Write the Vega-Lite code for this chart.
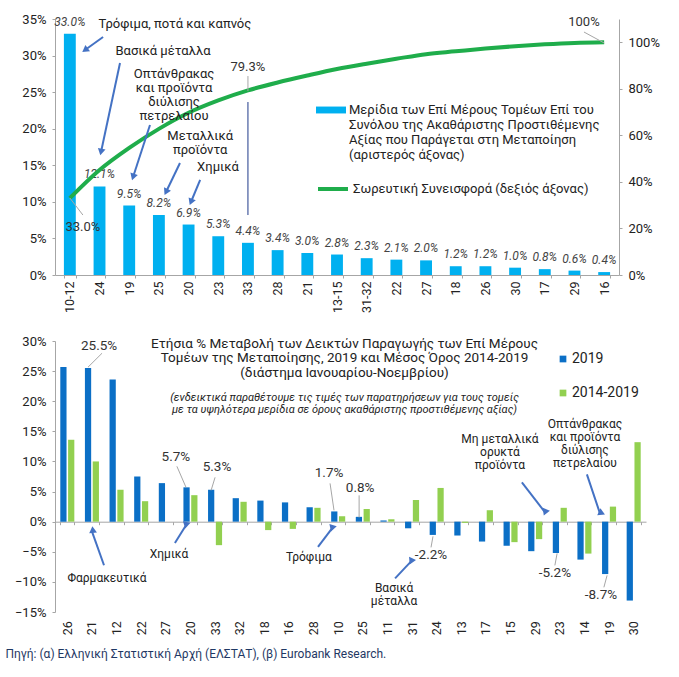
{
  "$schema": "https://vega.github.io/schema/vega-lite/v6.json",
  "background": "white",
  "padding": {"left": 5, "top": 13, "right": 5, "bottom": 5},
  "bounds": "flush",
  "spacing": 66,
  "config": {
    "font": "Roboto",
    "view": {"stroke": null},
    "axis": {"grid": false, "domainColor": "#a6a6a6", "tickColor": "#a6a6a6", "labelColor": "#222222", "labelFontSize": 12.5, "tickSize": 3, "labelPadding": 3, "title": null},
    "axisY": {"labelFontSize": 13, "labelPadding": 6}
  },
  "title": {"text": "Πηγή: (α) Ελληνική Στατιστική Αρχή (ΕΛΣΤΑΤ), (β) Eurobank Research.", "orient": "bottom", "anchor": "start", "fontSize": 12, "fontWeight": "normal", "color": "#1f3864", "offset": 14, "dx": -9},
  "datasets": {
    "top": [
      {"sector": "10-12", "share": 0.330, "cum": 0.330},
      {"sector": "24", "share": 0.121, "cum": 0.451},
      {"sector": "19", "share": 0.095, "cum": 0.546},
      {"sector": "25", "share": 0.082, "cum": 0.628},
      {"sector": "20", "share": 0.069, "cum": 0.697},
      {"sector": "23", "share": 0.053, "cum": 0.750},
      {"sector": "33", "share": 0.044, "cum": 0.793},
      {"sector": "28", "share": 0.034, "cum": 0.827},
      {"sector": "21", "share": 0.030, "cum": 0.857},
      {"sector": "13-15", "share": 0.028, "cum": 0.885},
      {"sector": "31-32", "share": 0.023, "cum": 0.908},
      {"sector": "22", "share": 0.021, "cum": 0.929},
      {"sector": "27", "share": 0.020, "cum": 0.949},
      {"sector": "18", "share": 0.012, "cum": 0.961},
      {"sector": "26", "share": 0.012, "cum": 0.973},
      {"sector": "30", "share": 0.010, "cum": 0.983},
      {"sector": "17", "share": 0.008, "cum": 0.991},
      {"sector": "29", "share": 0.006, "cum": 0.997},
      {"sector": "16", "share": 0.004, "cum": 1.000}
    ],
    "topNotes": [
      {"x": 4.04, "y": 35.14, "text": "Τρόφιμα, ποτά και καπνός"},
      {"x": 3.64, "y": 31.45, "text": "Βασικά μέταλλα"},
      {"x": 4.01, "y": 28.30, "text": "Οπτάνθρακας\nκαι προϊόντα\nδιύλισης\nπετρελαίου"},
      {"x": 4.89, "y": 19.82, "text": "Μεταλλικά\nπροϊόντα"},
      {"x": 5.49, "y": 15.59, "text": "Χημικά"}
    ],
    "topLabels": [
      {"x": 0.94, "y": 6.56, "text": "33.0%"},
      {"x": 6.5, "y": 28.44, "text": "79.3%"},
      {"x": 17.82, "y": 34.59, "text": "100%"}
    ],
    "topLeaders": [
      {"x": 0.50, "y": 10.53, "x2": 0.94, "y2": 8.2},
      {"x": 6.5, "y": 27.2, "x2": 6.5, "y2": 25.16},
      {"x": 17.82, "y": 33.22, "x2": 18.5, "y2": 31.72}
    ],
    "topMarker": [
      {"x": 6.5, "y": 23.65, "y2": 8.2}
    ],
    "topArrows": [
      {"id": "a1", "x": 1.62, "y": 32.54, "x2": 1.01, "y2": 30.76},
      {"id": "a2", "x": 2.19, "y": 28.99, "x2": 1.55, "y2": 16.82},
      {"id": "a3", "x": 3.20, "y": 20.51, "x2": 2.63, "y2": 13.40},
      {"id": "a4", "x": 4.21, "y": 15.31, "x2": 3.74, "y2": 11.35},
      {"id": "a5", "x": 4.89, "y": 12.99, "x2": 4.58, "y2": 9.98}
    ],
    "bottom": [
      {"sector": "26", "series": "2019", "value": 0.257}, {"sector": "26", "series": "2014-2019", "value": 0.136},
      {"sector": "21", "series": "2019", "value": 0.255}, {"sector": "21", "series": "2014-2019", "value": 0.100},
      {"sector": "12", "series": "2019", "value": 0.236}, {"sector": "12", "series": "2014-2019", "value": 0.053},
      {"sector": "22", "series": "2019", "value": 0.075}, {"sector": "22", "series": "2014-2019", "value": 0.034},
      {"sector": "27", "series": "2019", "value": 0.064}, {"sector": "27", "series": "2014-2019", "value": 0.0},
      {"sector": "20", "series": "2019", "value": 0.057}, {"sector": "20", "series": "2014-2019", "value": 0.044},
      {"sector": "33", "series": "2019", "value": 0.053}, {"sector": "33", "series": "2014-2019", "value": -0.039},
      {"sector": "32", "series": "2019", "value": 0.039}, {"sector": "32", "series": "2014-2019", "value": 0.033},
      {"sector": "18", "series": "2019", "value": 0.035}, {"sector": "18", "series": "2014-2019", "value": -0.014},
      {"sector": "16", "series": "2019", "value": 0.032}, {"sector": "16", "series": "2014-2019", "value": -0.012},
      {"sector": "28", "series": "2019", "value": 0.024}, {"sector": "28", "series": "2014-2019", "value": 0.023},
      {"sector": "10", "series": "2019", "value": 0.017}, {"sector": "10", "series": "2014-2019", "value": 0.009},
      {"sector": "25", "series": "2019", "value": 0.008}, {"sector": "25", "series": "2014-2019", "value": 0.021},
      {"sector": "11", "series": "2019", "value": 0.002}, {"sector": "11", "series": "2014-2019", "value": 0.004},
      {"sector": "31", "series": "2019", "value": -0.011}, {"sector": "31", "series": "2014-2019", "value": 0.036},
      {"sector": "24", "series": "2019", "value": -0.022}, {"sector": "24", "series": "2014-2019", "value": 0.056},
      {"sector": "13", "series": "2019", "value": -0.023}, {"sector": "13", "series": "2014-2019", "value": -0.002},
      {"sector": "17", "series": "2019", "value": -0.033}, {"sector": "17", "series": "2014-2019", "value": 0.019},
      {"sector": "15", "series": "2019", "value": -0.040}, {"sector": "15", "series": "2014-2019", "value": -0.034},
      {"sector": "29", "series": "2019", "value": -0.049}, {"sector": "29", "series": "2014-2019", "value": -0.029},
      {"sector": "23", "series": "2019", "value": -0.052}, {"sector": "23", "series": "2014-2019", "value": 0.023},
      {"sector": "14", "series": "2019", "value": -0.063}, {"sector": "14", "series": "2014-2019", "value": -0.053},
      {"sector": "19", "series": "2019", "value": -0.087}, {"sector": "19", "series": "2014-2019", "value": 0.025},
      {"sector": "30", "series": "2019", "value": -0.131}, {"sector": "30", "series": "2014-2019", "value": 0.132}
    ],
    "bottomNotes": [
      {"x": 2.11, "y": -8.59, "text": "Φαρμακευτικά"},
      {"x": 4.63, "y": -4.6, "text": "Χημικά"},
      {"x": 10.31, "y": -5.1, "text": "Τρόφιμα"},
      {"x": 13.77, "y": -10.25, "text": "Βασικά\nμέταλλα"},
      {"x": 18.07, "y": 14.5, "text": "Μη μεταλλικά\nορυκτά\nπροϊόντα"},
      {"x": 21.52, "y": 17.0, "text": "Οπτάνθρακας\nκαι προϊόντα\nδιύλισης\nπετρελαίου"}
    ],
    "bottomLabels": [
      {"x": 1.79, "y": 29.15, "text": "25.5%"},
      {"x": 4.91, "y": 10.66, "text": "5.7%"},
      {"x": 6.58, "y": 9.0, "text": "5.3%"},
      {"x": 11.13, "y": 8.0, "text": "1.7%"},
      {"x": 12.39, "y": 5.53, "text": "0.8%"},
      {"x": 15.27, "y": -5.6, "text": "-2.2%"},
      {"x": 20.30, "y": -8.6, "text": "-5.2%"},
      {"x": 22.17, "y": -12.2, "text": "-8.7%"}
    ],
    "bottomLeaders": [
      {"x": 1.91, "y": 27.97, "x2": 1.34, "y2": 25.65},
      {"x": 4.95, "y": 9.19, "x2": 5.32, "y2": 5.70},
      {"x": 6.50, "y": 7.36, "x2": 6.34, "y2": 5.2},
      {"x": 11.17, "y": 6.36, "x2": 11.33, "y2": 1.88},
      {"x": 12.35, "y": 4.37, "x2": 12.35, "y2": 0.7},
      {"x": 15.35, "y": -2.44, "x2": 15.27, "y2": -4.27},
      {"x": 20.39, "y": -5.27, "x2": 20.30, "y2": -7.26},
      {"x": 22.42, "y": -8.92, "x2": 22.29, "y2": -10.9}
    ],
    "bottomArrows": [
      {"id": "b1", "x": 1.99, "y": -7.24, "x2": 1.50, "y2": -1.61},
      {"id": "b2", "x": 4.87, "y": -3.54, "x2": 5.32, "y2": -0.61},
      {"id": "b3", "x": 10.68, "y": -4.2, "x2": 11.25, "y2": -1.11},
      {"id": "b4", "x": 13.81, "y": -9.42, "x2": 14.46, "y2": -6.6},
      {"id": "b5", "x": 18.96, "y": 6.53, "x2": 19.90, "y2": 1.55},
      {"id": "b6", "x": 21.60, "y": 7.86, "x2": 22.13, "y2": 1.38}
    ]
  },
  "vconcat": [
    {
      "width": 564,
      "height": 256,
      "layer": [
        {
          "data": {"name": "top"},
          "encoding": {
            "x": {"field": "sector", "type": "nominal", "sort": null, "scale": {"paddingInner": 0.6, "paddingOuter": 0.3}, "axis": {"labelAngle": -90, "tickBand": "extent", "title": null}},
            "y": {"field": "share", "type": "quantitative", "scale": {"domain": [0, 0.35], "nice": false}, "axis": {"format": ".0%", "values": [0, 0.05, 0.1, 0.15, 0.2, 0.25, 0.3, 0.35], "title": null}}
          },
          "layer": [
            {
              "mark": {"type": "bar"},
              "encoding": {
                "fill": {"datum": "Μερίδια των Επί Μέρους Τομέων Επί του|Συνόλου της Ακαθάριστης Προστιθέμενης|Αξίας που Παράγεται στη Μεταποίηση|(αριστερός άξονας)", "scale": {"range": ["#00b0f0"]},
                  "legend": {"orient": "none", "legendX": 261, "legendY": 76, "title": null, "padding": 0, "symbolType": "M-1,-0.23H1V0.23H-1Z", "symbolSize": 900, "symbolStrokeWidth": 0, "labelExpr": "split(datum.label, '|')", "labelFontSize": 13, "labelColor": "#222222", "labelLimit": 400, "labelOffset": 3}}
              }
            },
            {
              "mark": {"type": "text", "fontStyle": "italic", "fontSize": 12, "color": "#444444", "baseline": "bottom", "dy": -5},
              "encoding": {"text": {"field": "share", "type": "quantitative", "format": ".1%"}}
            }
          ]
        },
        {
          "data": {"name": "top"},
          "mark": {"type": "line", "interpolate": "monotone", "strokeWidth": 4},
          "encoding": {
            "x": {"field": "sector", "type": "nominal", "sort": null, "scale": {"type": "point", "padding": 0.5}, "axis": null},
            "y": {"field": "cum", "type": "quantitative", "scale": {"domain": [0, 1.1], "nice": false}, "axis": {"orient": "right", "format": ".0%", "values": [0, 0.2, 0.4, 0.6, 0.8, 1], "labelPadding": 6, "title": null}},
            "order": {"field": "cum", "type": "quantitative"},
            "stroke": {"datum": "Σωρευτική Συνεισφορά (δεξιός άξονας)", "scale": {"range": ["#1fad4b"]},
              "legend": {"orient": "none", "legendX": 261, "legendY": 153, "title": null, "padding": 0, "symbolType": "stroke", "symbolSize": 900, "symbolStrokeWidth": 4, "labelFontSize": 13, "labelColor": "#222222", "labelLimit": 400, "labelOffset": 3}}
          }
        },
        {
          "encoding": {
            "x": {"field": "x", "type": "quantitative", "scale": {"domain": [0, 19], "nice": false, "zero": false}, "axis": null},
            "y": {"field": "y", "type": "quantitative", "scale": {"domain": [0, 35], "nice": false, "zero": false}, "axis": null}
          },
          "layer": [
            {"data": {"name": "topLeaders"}, "mark": {"type": "rule", "color": "#a6a6a6", "strokeWidth": 1}, "encoding": {"x2": {"field": "x2"}, "y2": {"field": "y2"}}},
            {"data": {"name": "topMarker"}, "mark": {"type": "rule", "color": "#1f3a8a", "strokeWidth": 1}, "encoding": {"y2": {"field": "y2"}}},
            {"data": {"name": "topArrows"}, "mark": {"type": "rule", "color": "#4472c4", "strokeWidth": 2}, "encoding": {"x2": {"field": "x2"}, "y2": {"field": "y2"}}},
            {"data": {"name": "topArrows"}, "mark": {"type": "point", "shape": "triangle-up", "filled": true, "color": "#4472c4", "size": 60, "opacity": 1},
              "encoding": {"x": {"field": "x2", "type": "quantitative"}, "y": {"field": "y2", "type": "quantitative"},
                "angle": {"field": "id", "type": "nominal", "scale": {"type": "ordinal", "domain": ["a1", "a2", "a3", "a4", "a5"], "range": [234, 192, 198, 206, 202]}, "legend": null}}},
            {"data": {"name": "topLabels"}, "mark": {"type": "text", "fontSize": 13, "color": "#333333", "baseline": "middle", "align": "center"}, "encoding": {"text": {"field": "text"}}},
            {"data": {"name": "topNotes"}, "mark": {"type": "text", "fontSize": 13, "color": "#222222", "baseline": "top", "align": "center", "lineBreak": "\n", "lineHeight": 14}, "encoding": {"text": {"field": "text"}}}
          ]
        }
      ],
      "resolve": {"scale": {"x": "independent", "y": "independent"}}
    },
    {
      "width": 591,
      "height": 271,
      "title": {
        "text": ["Ετήσια % Μεταβολή των Δεικτών Παραγωγής των Επί Μέρους", "Τομέων της Μεταποίησης, 2019 και Μέσος Όρος 2014-2019", "(διάστημα Ιανουαρίου-Νοεμβρίου)"],
        "subtitle": ["(ενδεικτικά παραθέτουμε τις τιμές των παρατηρήσεων για τους τομείς", "με τα υψηλότερα μερίδια σε όρους ακαθάριστης προστιθέμενης αξίας)"],
        "anchor": "middle", "frame": "group", "offset": -80, "dx": -6,
        "fontSize": 13.5, "fontWeight": "normal", "color": "#222222", "lineHeight": 14.5,
        "subtitleFontSize": 11, "subtitleFontStyle": "italic", "subtitleColor": "#222222", "subtitleLineHeight": 12, "subtitlePadding": 13
      },
      "layer": [
        {
          "data": {"name": "bottom"},
          "mark": {"type": "bar"},
          "encoding": {
            "x": {"field": "sector", "type": "nominal", "sort": null, "scale": {"paddingInner": 0.43, "paddingOuter": 0.215}, "axis": {"labelAngle": -90, "tickBand": "extent", "offset": -90.3, "labelPadding": 96, "title": null}},
            "xOffset": {"field": "series", "type": "nominal", "sort": ["2019", "2014-2019"], "scale": {"paddingInner": 0.2}},
            "y": {"field": "value", "type": "quantitative", "scale": {"domain": [-0.15, 0.3], "nice": false}, "axis": {"format": ".0%", "values": [-0.15, -0.1, -0.05, 0, 0.05, 0.1, 0.15, 0.2, 0.25, 0.3], "title": null}},
            "color": {"field": "series", "type": "nominal", "sort": ["2019", "2014-2019"], "scale": {"domain": ["2019", "2014-2019"], "range": ["#0b6fc6", "#92d050"]},
              "legend": {"orient": "none", "legendX": 501, "legendY": 333, "title": null, "padding": 0, "symbolType": "square", "symbolSize": 45, "labelFontSize": 14, "labelColor": "#222222", "rowPadding": 20, "labelOffset": 2}}
          }
        },
        {
          "encoding": {
            "x": {"field": "x", "type": "quantitative", "scale": {"domain": [0, 24], "nice": false, "zero": false}, "axis": null},
            "y": {"field": "y", "type": "quantitative", "scale": {"domain": [-15, 30], "nice": false, "zero": false}, "axis": null}
          },
          "layer": [
            {"data": {"name": "bottomLeaders"}, "mark": {"type": "rule", "color": "#a6a6a6", "strokeWidth": 1}, "encoding": {"x2": {"field": "x2"}, "y2": {"field": "y2"}}},
            {"data": {"name": "bottomArrows"}, "mark": {"type": "rule", "color": "#4472c4", "strokeWidth": 2}, "encoding": {"x2": {"field": "x2"}, "y2": {"field": "y2"}}},
            {"data": {"name": "bottomArrows"}, "mark": {"type": "point", "shape": "triangle-up", "filled": true, "color": "#4472c4", "size": 60, "opacity": 1},
              "encoding": {"x": {"field": "x2", "type": "quantitative"}, "y": {"field": "y2", "type": "quantitative"},
                "angle": {"field": "id", "type": "nominal", "scale": {"type": "ordinal", "domain": ["b1", "b2", "b3", "b4", "b5", "b6"], "range": [341, 31, 36, 43, 142, 162]}, "legend": null}}},
            {"data": {"name": "bottomLabels"}, "mark": {"type": "text", "fontSize": 13.5, "color": "#333333", "baseline": "middle", "align": "center"}, "encoding": {"text": {"field": "text"}}},
            {"data": {"name": "bottomNotes"}, "mark": {"type": "text", "fontSize": 12, "color": "#222222", "baseline": "top", "align": "center", "lineBreak": "\n", "lineHeight": 13}, "encoding": {"text": {"field": "text"}}}
          ]
        }
      ],
      "resolve": {"scale": {"x": "independent", "y": "independent"}}
    }
  ]
}
